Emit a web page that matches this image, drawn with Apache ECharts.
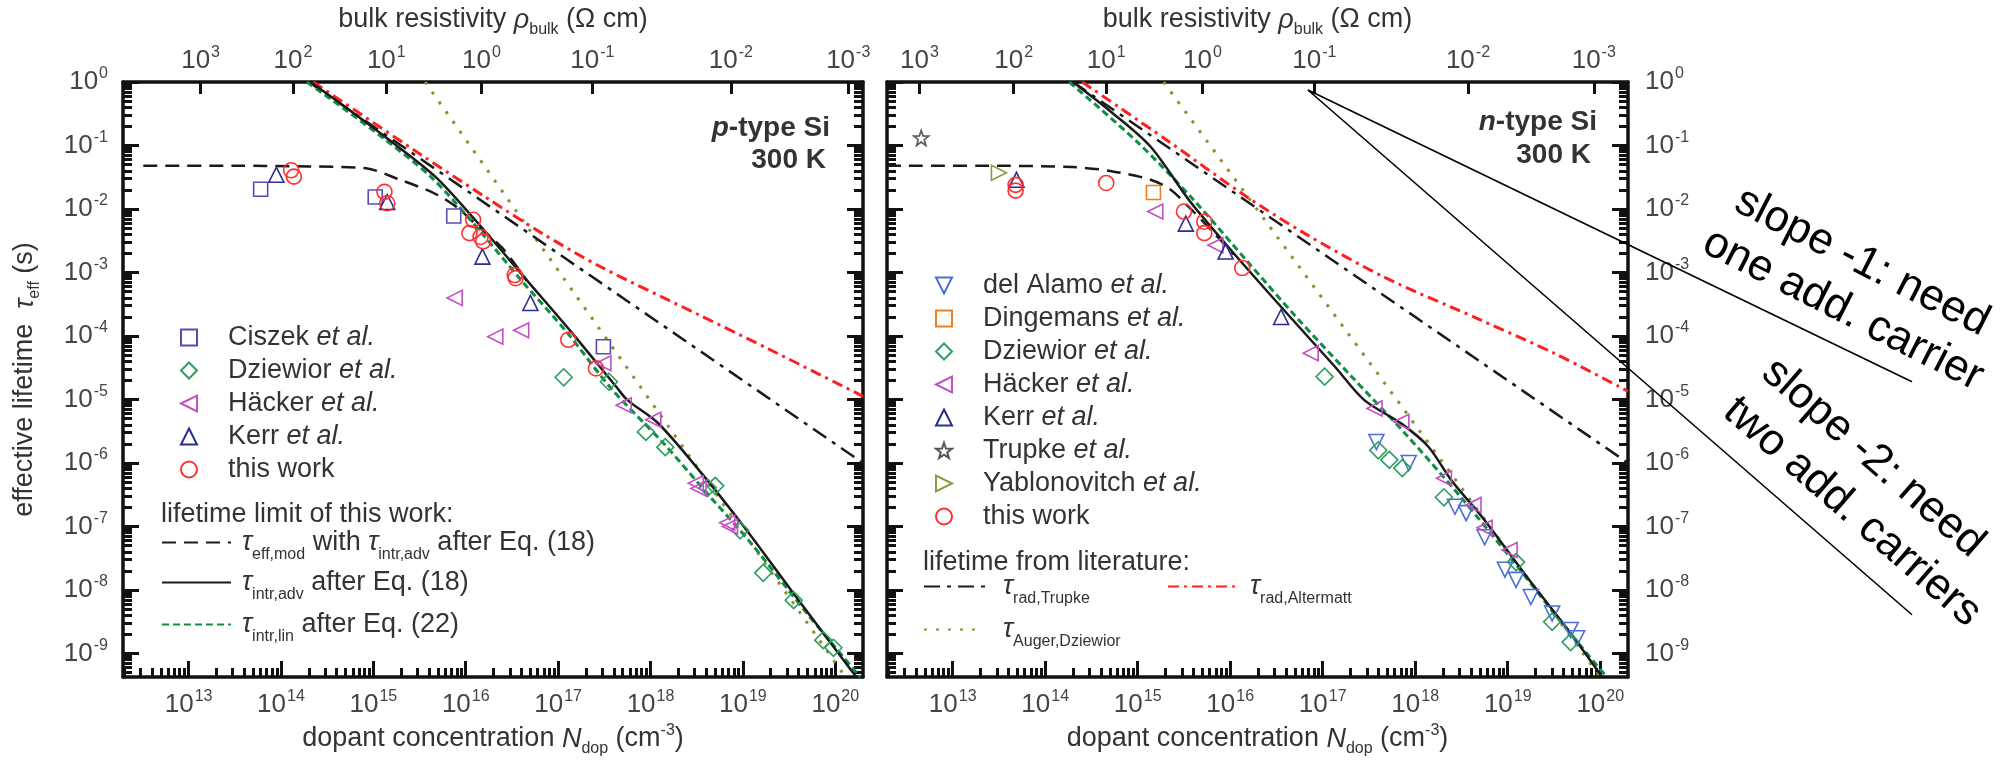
<!DOCTYPE html>
<html>
<head>
<meta charset="utf-8">
<title>Lifetime vs dopant concentration</title>
<script src="https://cdn.jsdelivr.net/npm/echarts@6/dist/echarts.min.js"></script>
<style>
  html, body { margin: 0; padding: 0; background: #fff; }
  #chart { width: 2005px; height: 763px; }
</style>
</head>
<body>
<div id="chart"></div>
<script>
// every point is [log10 N_dop (cm^-3), log10 tau (s)]
const xMinExp = 12.29, xMaxExp = 20.3;
const yMinExp = -9.37, yMaxExp = 0;

const bottomTickExps = [13, 14, 15, 16, 17, 18, 19, 20];
const leftTickExps = [0, -1, -2, -3, -4, -5, -6, -7, -8, -9];

// top axis: bulk resistivity labels and the N_dop where each one sits
const rhoLabelExps = [3, 2, 1, 0, -1, -2, -3];
const rhoPosP = [13.13, 14.13, 15.14, 16.17, 17.37, 18.87, 20.14];
const rhoPosN = [12.64, 13.66, 14.66, 15.70, 16.91, 18.57, 19.93];

// p-type markers
const pCiszek = [[13.78, -1.69], [15.02, -1.81], [15.87, -2.11], [17.49, -4.17]];
const pDziewior = [[17.06, -4.65], [17.55, -4.72], [17.95, -5.51], [18.16, -5.75], [18.62, -6.39], [18.70, -6.36],
  [18.97, -7.06], [19.22, -7.73], [19.55, -8.16], [19.87, -8.79], [19.98, -8.91]];
const pHacker = [[15.88, -3.40], [16.32, -4.01], [16.60, -3.91], [17.49, -4.43], [17.71, -5.09], [18.03, -5.32],
  [18.49, -6.32], [18.52, -6.40], [18.83, -6.94], [18.86, -7.00]];
const pKerr = [[13.95, -1.46], [15.15, -1.89], [16.18, -2.75], [16.70, -3.48]];
const pThisWork = [[14.11, -1.39], [14.14, -1.49], [15.12, -1.73], [15.15, -1.91], [16.08, -2.17], [16.04, -2.38],
  [16.16, -2.44], [16.19, -2.51], [16.53, -3.04], [16.54, -3.09], [17.11, -4.06], [17.41, -4.51]];

// p-type curves
const pEffMod = [[12.51, -1.32], [13.5, -1.32], [14.3, -1.33], [14.92, -1.36], [15.29, -1.54], [15.67, -1.76],
  [15.91, -1.98], [16.1, -2.23], [16.4, -2.62], [16.66, -3.13]];
const pIntrAdv = [[14.32, 0], [14.74, -0.44], [15.17, -0.91], [15.67, -1.49], [16.10, -2.17], [16.66, -3.12],
  [17.15, -3.95], [17.64, -4.82], [17.75, -5.01], [18.08, -5.37], [18.54, -6.14], [19.01, -7.0], [19.52, -8.0],
  [20.17, -9.26], [20.23, -9.37]];
const pIntrLin = [[14.28, 0], [14.70, -0.44], [15.13, -0.91], [15.62, -1.49], [16.05, -2.17], [16.60, -3.12],
  [17.10, -3.95], [17.57, -4.82], [18.14, -5.69], [18.65, -6.54], [19.08, -7.25], [19.70, -8.38], [20.27, -9.37]];
const pRadTrupke = [[14.3, 0], [20.3, -6.0]];
const pRadAltermatt = [[14.35, 0], [15.5, -1.13], [16.2, -1.80], [16.8, -2.36], [17.46, -2.91], [18.5, -3.65],
  [19.3, -4.22], [20.3, -4.95]];
const pAugerDziewior = [[15.56, 0], [20.11, -9.37]];

// n-type markers
const nDelAlamo = [[17.58, -5.67], [17.93, -6.0], [18.43, -6.69], [18.55, -6.79], [18.75, -7.17], [18.97, -7.68],
  [19.09, -7.84], [19.25, -8.11], [19.48, -8.37], [19.68, -8.63], [19.75, -8.76]];
const nDingemans = [[15.17, -1.74]];
const nDziewior = [[17.02, -4.64], [17.60, -5.80], [17.72, -5.95], [17.86, -6.08], [18.31, -6.54], [19.09, -7.56],
  [19.48, -8.50], [19.68, -8.82]];
const nHacker = [[15.19, -2.04], [15.84, -2.57], [16.87, -4.27], [17.56, -5.14], [17.85, -5.35], [18.31, -6.24],
  [18.63, -6.66], [18.75, -7.02], [19.02, -7.37]];
const nKerr = [[13.69, -1.54], [15.52, -2.23], [15.95, -2.67], [16.55, -3.70]];
const nTrupke = [[12.66, -0.88]];
const nYablonovitch = [[13.50, -1.43]];
const nThisWork = [[13.68, -1.62], [13.68, -1.71], [14.66, -1.59], [15.50, -2.04], [15.72, -2.20], [15.72, -2.38],
  [16.13, -2.93]];

// n-type curves
const nEffMod = [[12.29, -1.32], [13.5, -1.32], [14.3, -1.34], [14.7, -1.40], [15.14, -1.54], [15.36, -1.70],
  [15.56, -1.98], [15.8, -2.34], [16.04, -2.72]];
const nIntrAdv = [[14.30, 0], [14.72, -0.48], [15.14, -1.02], [15.56, -1.87], [16.04, -2.70], [16.58, -3.59],
  [17.13, -4.48], [17.45, -5.01], [17.85, -5.38], [18.14, -5.74], [18.39, -6.27], [18.75, -6.90], [19.21, -7.80],
  [19.68, -8.68], [20.02, -9.37]];
const nIntrLin = [[14.26, 0], [15.0, -0.95], [15.6, -1.85], [16.2, -2.85], [16.7, -3.68], [17.3, -4.62], [17.9, -5.55],
  [18.5, -6.55], [19.1, -7.62], [19.6, -8.55], [20.07, -9.37]];
const nRadTrupke = [[14.3, 0], [20.3, -6.0]];
const nRadAltermatt = [[14.40, 0], [15.3, -0.90], [16.15, -1.78], [16.80, -2.38], [17.66, -3.07], [18.71, -3.75],
  [19.5, -4.27], [20.3, -4.87]];
const nAugerDziewior = [[15.28, 0], [20.0, -9.37]];

// hand drawn slope guides (right panel coordinates, they run past the frame)
const slopeOne = [[16.84, -0.126], [23.37, -4.72]];
const slopeTwo = [[16.84, -0.126], [23.37, -8.39]];

const FONT = '"Liberation Sans", Arial, Helvetica, sans-serif';
const INK = '#111';
const TXT = '#333';

const toPts = arr => arr.map(p => [Math.pow(10, p[0]), Math.pow(10, p[1])]);
const pow10 = arr => arr.map(e => Math.pow(10, e));

function minorValues(lo, hi) {
  const out = [];
  for (let e = Math.floor(lo); e <= Math.ceil(hi); e++) {
    for (let k = 2; k <= 9; k++) {
      const l = Math.log10(k) + e;
      if (l > lo && l < hi) out.push(k * Math.pow(10, e));
    }
  }
  return out;
}

const tickRich = {
  n: { fontSize: 26, color: '#444', fontFamily: FONT },
  sup: { fontSize: 16, color: '#444', fontFamily: FONT, padding: [0, 0, 16, 1] }
};
const nameRich = {
  t: { fontSize: 27, color: TXT, fontFamily: FONT },
  it: { fontSize: 27, color: TXT, fontFamily: FONT, fontStyle: 'italic' },
  sub: { fontSize: 16, color: TXT, fontFamily: FONT, padding: [20, 0, 0, 0] },
  sup: { fontSize: 16, color: TXT, fontFamily: FONT, padding: [0, 0, 16, 0] }
};
const powLabel = e => '{n|10}{sup|' + e + '}';

const frameLine = { show: true, onZero: false, lineStyle: { color: INK, width: 3.5 } };
const tickStyle = { color: INK, width: 3 };
const xMin = Math.pow(10, xMinExp), xMax = Math.pow(10, xMaxExp);
const yMin = Math.pow(10, yMinExp), yMax = Math.pow(10, yMaxExp);

function xAxesFor(gi, rhoPos) {
  const rhoVals = pow10(rhoPos);
  return [
    {
      gridIndex: gi, type: 'log', position: 'bottom', min: xMin, max: xMax,
      axisLine: frameLine,
      axisTick: { show: true, inside: true, length: 16, lineStyle: tickStyle, customValues: pow10(bottomTickExps) },
      axisLabel: {
        show: true, margin: 12, customValues: pow10(bottomTickExps),
        formatter: v => powLabel(Math.round(Math.log10(v))), rich: tickRich
      },
      splitLine: { show: false },
      name: '{t|dopant concentration }{it|N}{sub|dop}{t| (cm}{sup|-3}{t|)}',
      nameLocation: 'middle', nameGap: 44, nameMoveOverlap: false,
      nameTextStyle: { rich: nameRich }
    },
    {
      gridIndex: gi, type: 'log', position: 'bottom', min: xMin, max: xMax,
      axisLine: { show: false },
      axisTick: { show: true, inside: true, length: 9, lineStyle: tickStyle, customValues: minorValues(xMinExp, xMaxExp) },
      axisLabel: { show: false },
      splitLine: { show: false }
    },
    {
      gridIndex: gi, type: 'log', position: 'top', min: xMin, max: xMax,
      axisLine: frameLine,
      axisTick: { show: true, inside: true, length: 12, lineStyle: tickStyle, customValues: rhoVals },
      axisLabel: {
        show: true, margin: 5, customValues: rhoVals, rich: tickRich,
        formatter: v => {
          const l = Math.log10(v);
          let best = 0;
          rhoPos.forEach((p, i) => { if (Math.abs(p - l) < Math.abs(rhoPos[best] - l)) best = i; });
          return powLabel(rhoLabelExps[best]);
        }
      },
      splitLine: { show: false },
      name: '{t|bulk resistivity }{it|ρ}{sub|bulk}{t| (Ω cm)}',
      nameLocation: 'middle', nameGap: 44, nameMoveOverlap: false,
      nameTextStyle: { rich: nameRich }
    }
  ];
}

function yAxesFor(gi, leftLabels, rightLabels) {
  const major = pow10(leftTickExps);
  const minor = minorValues(yMinExp, yMaxExp);
  const side = (pos, labels) => [
    {
      gridIndex: gi, type: 'log', position: pos, min: yMin, max: yMax,
      axisLine: frameLine,
      axisTick: { show: true, inside: true, length: 16, lineStyle: tickStyle, customValues: major },
      axisLabel: {
        show: labels, margin: pos === 'left' ? 15 : 17, customValues: major,
        formatter: v => powLabel(Math.round(Math.log10(v))), rich: tickRich
      },
      splitLine: { show: false }
    },
    {
      gridIndex: gi, type: 'log', position: pos, min: yMin, max: yMax,
      axisLine: { show: false },
      axisTick: { show: true, inside: true, length: 9, lineStyle: tickStyle, customValues: minor },
      axisLabel: { show: false },
      splitLine: { show: false }
    }
  ];
  const axes = side('left', leftLabels).concat(side('right', rightLabels));
  if (gi === 0) {
    Object.assign(axes[0], {
      name: '{t|effective lifetime  }{it|τ}{sub|eff}{t| (s)}',
      nameLocation: 'middle', nameGap: 80, nameMoveOverlap: false,
      nameTextStyle: { rich: nameRich }
    });
  }
  return axes;
}

const colors = {
  ciszek: '#5b4ab0', dziewior: '#2e9e5e', hacker: '#c24fc4', kerr: '#2a2f8f', thisWork: '#ff3030',
  delAlamo: '#4a6ed6', dingemans: '#f07d1a', trupke: '#555555', yablonovitch: '#8a9a3c',
  black: '#1a1a1a', green: '#0e8f43', red: '#ff1f1f', olive: '#8c8f2e'
};
const STAR = 'path://M0,-10 L2.35,-3.24 L9.51,-3.09 L3.8,1.24 L5.88,8.09 L0,4 L-5.88,8.09 L-3.8,1.24 L-9.51,-3.09 L-2.35,-3.24 Z';
const TRI_LEFT = 'path://M0,5 L10,0 L10,10 Z';
const TRI_RIGHT = 'path://M10,5 L0,0 L0,10 Z';
const TRI_DOWN = 'path://M0,0 L10,0 L5,10 Z';

function scatter(name, data, gi, symbol, color, size) {
  return {
    name, type: 'scatter', xAxisIndex: gi * 3, yAxisIndex: gi * 4, data: toPts(data),
    symbol, symbolSize: size || 15, z: 4, silent: true,
    itemStyle: { color: 'rgba(255,255,255,0)', borderColor: color, borderWidth: 1.6, opacity: 1 }
  };
}
function curve(name, data, gi, color, width, type, z, smooth) {
  return {
    name, type: 'line', xAxisIndex: gi * 3, yAxisIndex: gi * 4, data: toPts(data),
    symbol: 'none', smooth: smooth || false, z: z, silent: true,
    lineStyle: { color, width, type, cap: 'butt' }, itemStyle: { color }
  };
}

const series = [];
[[0, 'p'], [1, 'n']].forEach(([gi, t]) => {
  const d = t === 'p'
    ? { eff: pEffMod, adv: pIntrAdv, lin: pIntrLin, tr: pRadTrupke, al: pRadAltermatt, au: pAugerDziewior }
    : { eff: nEffMod, adv: nIntrAdv, lin: nIntrLin, tr: nRadTrupke, al: nRadAltermatt, au: nAugerDziewior };
  series.push(curve('augerDziewior', d.au, gi, colors.olive, 3, [3, 9], 2));
  series.push(curve('radTrupke', d.tr, gi, colors.black, 2.5, [16, 7, 4, 7], 2));
  series.push(curve('radAltermatt', d.al, gi, colors.red, 3, [11, 5, 3, 5], 2, 0.3));
  series.push(curve('effMod', d.eff, gi, colors.black, 2.5, [14, 8], 2, 0.3));
  series.push(curve('intrLin', d.lin, gi, colors.green, 3, [7, 4], 2, 0.3));
  series.push(curve('intrAdv', d.adv, gi, colors.black, 2.5, 'solid', 3, 0.3));
});
const anchorSeries = series.length - 1; // a right panel series, used to map the slope guides

series.push(scatter('Ciszek', pCiszek, 0, 'rect', colors.ciszek, 14));
series.push(scatter('Dziewior', pDziewior, 0, 'diamond', colors.dziewior, 17));
series.push(scatter('Häcker', pHacker, 0, TRI_LEFT, colors.hacker, 15));
series.push(scatter('Kerr', pKerr, 0, 'triangle', colors.kerr, 15));
series.push(scatter('this work', pThisWork, 0, 'circle', colors.thisWork, 15));

series.push(scatter('del Alamo', nDelAlamo, 1, TRI_DOWN, colors.delAlamo, 15));
series.push(scatter('Dingemans', nDingemans, 1, 'rect', colors.dingemans, 14));
series.push(scatter('Dziewior', nDziewior, 1, 'diamond', colors.dziewior, 17));
series.push(scatter('Häcker', nHacker, 1, TRI_LEFT, colors.hacker, 15));
series.push(scatter('Kerr', nKerr, 1, 'triangle', colors.kerr, 15));
series.push(scatter('Trupke', nTrupke, 1, STAR, colors.trupke, 15));
series.push(scatter('Yablonovitch', nYablonovitch, 1, TRI_RIGHT, colors.yablonovitch, 15));
series.push(scatter('this work', nThisWork, 1, 'circle', colors.thisWork, 15));

const legendLabels = {
  'Ciszek': 'Ciszek ', 'Dziewior': 'Dziewior ', 'Häcker': 'Häcker ', 'Kerr': 'Kerr ',
  'del Alamo': 'del Alamo ', 'Dingemans': 'Dingemans ', 'Trupke': 'Trupke ', 'Yablonovitch': 'Yablonovitch '
};
const legendRich = {
  s: { width: 26 }, s6: { width: 6 }, s9: { width: 9 }, s17: { width: 17 },
  t: { fontSize: 27, color: TXT, fontFamily: FONT },
  i: { fontSize: 27, color: TXT, fontFamily: FONT, fontStyle: 'italic' },
  tau: { fontSize: 27, color: TXT, fontFamily: FONT, fontStyle: 'italic' },
  sub: { fontSize: 16, color: TXT, fontFamily: FONT, padding: [24, 0, 0, 0] }
};
function legendFormatter(name) {
  if (legendLabels[name]) return '{s|}{t|' + legendLabels[name] + '}{i|et al.}';
  if (name === 'this work') return '{s|}{t|this work}';
  if (name === 'effMod') return '{s6|}{tau|τ}{sub|eff,mod}{t| with }{tau|τ}{sub|intr,adv}{t| after Eq. (18)}';
  if (name === 'intrAdv') return '{s6|}{tau|τ}{sub|intr,adv}{t| after Eq. (18)}';
  if (name === 'intrLin') return '{s6|}{tau|τ}{sub|intr,lin}{t| after Eq. (22)}';
  if (name === 'radTrupke') return '{s6|}{tau|τ}{sub|rad,Trupke}';
  if (name === 'radAltermatt') return '{s9|}{tau|τ}{sub|rad,Altermatt}';
  if (name === 'augerDziewior') return '{s17|}{tau|τ}{sub|Auger,Dziewior}';
  return name;
}
function legendBox(left, top, data, extra) {
  return Object.assign({
    left, top, data, orient: 'vertical', padding: 0, selectedMode: false,
    itemWidth: 16, itemHeight: 16, itemGap: 6,
    formatter: legendFormatter,
    textStyle: { fontSize: 27, color: TXT, fontFamily: FONT, lineHeight: 27, rich: legendRich }
  }, extra || {});
}
// line entries: hide the dot echarts puts in the middle of a line icon
const hiddenDot = { color: 'rgba(0,0,0,0)', borderColor: 'rgba(0,0,0,0)', borderWidth: 0, opacity: 0 };
const lineLegend = w => ({ itemWidth: w, itemHeight: 14, itemStyle: hiddenDot });

const legends = [
  legendBox(180, 324, ['Ciszek', 'Dziewior', 'Häcker', 'Kerr', 'this work']),
  legendBox(935, 272, ['del Alamo', 'Dingemans', 'Dziewior', 'Häcker', 'Kerr', 'Trupke', 'Yablonovitch', 'this work']),
  legendBox(161, 529, ['effMod'], lineLegend(69)),
  legendBox(161, 569, ['intrAdv'], lineLegend(69)),
  legendBox(161, 611, ['intrLin'], lineLegend(69)),
  legendBox(923, 573, ['radTrupke'], lineLegend(68)),
  legendBox(1167, 573, ['radAltermatt'], lineLegend(68)),
  legendBox(923, 616, ['augerDziewior'], lineLegend(57))
];

function label(x, y, text, opts) {
  return {
    type: 'text', x, y, silent: true, z: 10, rotation: (opts && opts.rotation) || 0,
    style: Object.assign({
      text, fill: TXT, fontFamily: FONT, fontSize: 27,
      align: 'left', verticalAlign: 'middle'
    }, opts && opts.style)
  };
}
const boldRich = {
  bi: { fontSize: 28, fontWeight: 'bold', fontStyle: 'italic', fill: TXT, color: TXT, fontFamily: FONT },
  b: { fontSize: 28, fontWeight: 'bold', fill: TXT, color: TXT, fontFamily: FONT }
};
const rot = d => -d * Math.PI / 180;
const noteStyle = { fill: '#000', fontSize: 44, align: 'center' };

const graphic = [
  label(161, 515, 'lifetime limit of this work:'),
  label(923, 563, 'lifetime from literature:'),
  label(830, 128, '{bi|p}{b|-type Si}', { style: { align: 'right', rich: boldRich } }),
  label(826, 160, '{b|300 K}', { style: { align: 'right', rich: boldRich } }),
  label(1597, 122, '{bi|n}{b|-type Si}', { style: { align: 'right', rich: boldRich } }),
  label(1591, 155, '{b|300 K}', { style: { align: 'right', rich: boldRich } }),
  label(1862, 262, 'slope -1: need', { rotation: rot(27), style: noteStyle }),
  label(1843, 310, 'one add. carrier', { rotation: rot(27), style: noteStyle }),
  label(1873, 458, 'slope -2: need', { rotation: rot(41), style: noteStyle }),
  label(1852, 512, 'two add. carriers', { rotation: rot(41), style: noteStyle })
];

const option = {
  animation: false,
  backgroundColor: '#fff',
  textStyle: { fontFamily: FONT },
  grid: [
    { left: 123, top: 82, width: 740, height: 595, containLabel: false, outerBoundsMode: 'none' },
    { left: 887, top: 82, width: 741, height: 595, containLabel: false, outerBoundsMode: 'none' }
  ],
  xAxis: xAxesFor(0, rhoPosP).concat(xAxesFor(1, rhoPosN)),
  yAxis: yAxesFor(0, true, false).concat(yAxesFor(1, false, true)),
  legend: legends,
  graphic: graphic,
  series: series
};

const chart = echarts.init(document.getElementById('chart'));
chart.setOption(option);

// the slope guides leave the frame, so map them through the right panel axes and draw them as graphics
const guideLines = [slopeOne, slopeTwo].map((s, i) => {
  const pts = toPts(s).map(p => chart.convertToPixel({ seriesIndex: anchorSeries }, p));
  return {
    type: 'line', id: 'guide' + i, silent: true, z: 9,
    shape: { x1: pts[0][0], y1: pts[0][1], x2: pts[1][0], y2: pts[1][1] },
    style: { stroke: '#000', lineWidth: 1.6 }
  };
});
chart.setOption({ graphic: graphic.concat(guideLines) });
window.addEventListener('resize', () => chart.resize());
</script>
</body>
</html>
